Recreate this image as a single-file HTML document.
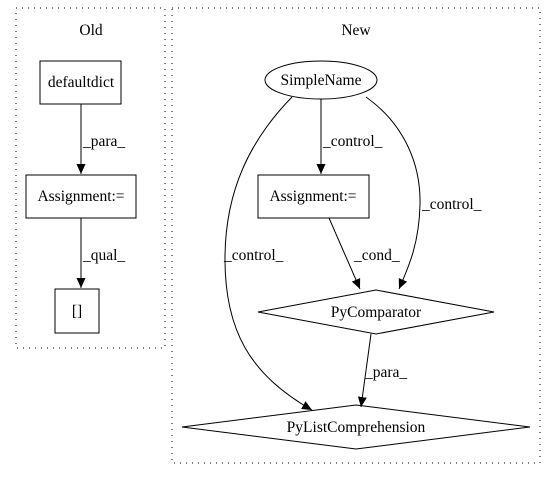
<!DOCTYPE html>
<html><head><style>body{margin:0;background:#fff}svg{display:block}text{font-family:"Liberation Serif",serif;font-size:15.5px;fill:#000}</style></head>
<body>
<svg width="549" height="480" viewBox="0 0 549 480" xmlns="http://www.w3.org/2000/svg">
<defs><marker id="a" markerWidth="11" markerHeight="11" refX="10" refY="5" orient="auto" markerUnits="userSpaceOnUse"><path d="M0,0.5 L10,5 L0,9.5 Z" fill="#000"/></marker></defs>
<g fill="none" stroke="#000" stroke-width="1">
<rect x="16" y="8" width="149" height="340" stroke-dasharray="1,5"/>
<rect x="172" y="8" width="368" height="455" stroke-dasharray="1,5"/>
<rect x="40" y="61" width="81" height="43"/>
<rect x="26" y="175" width="110" height="43"/>
<rect x="55" y="289" width="44" height="44"/>
<ellipse cx="321" cy="80" rx="56" ry="19"/>
<rect x="258" y="175" width="111" height="43"/>
<polygon points="258,312 376,290 494,312 376,334"/>
<polygon points="182,427 356,405 530,427 356,449"/>
<path d="M81,104 L81,174" marker-end="url(#a)"/>
<path d="M81,218 L81,288" marker-end="url(#a)"/>
<path d="M321,99 L321,174" marker-end="url(#a)"/>
<path d="M329,218 L360,289" marker-end="url(#a)"/>
<path d="M366,97 C405,125 421,165 420,205 C419,245 408,268 399,289" marker-end="url(#a)"/>
<path d="M292,97 C250,140 226,190 225,255 C224,330 250,375 312,410" marker-end="url(#a)"/>
<path d="M371,334 L361,407" marker-end="url(#a)"/>
</g>
<text x="91" y="35" text-anchor="middle">Old</text>
<text x="356" y="35" text-anchor="middle">New</text>
<text x="81" y="87" text-anchor="middle">defaultdict</text>
<text x="81" y="201" text-anchor="middle">Assignment:=</text>
<text x="77" y="316" text-anchor="middle">[]</text>
<text x="321" y="85" text-anchor="middle">SimpleName</text>
<text x="313" y="201" text-anchor="middle">Assignment:=</text>
<text x="376" y="317" text-anchor="middle">PyComparator</text>
<text x="356" y="432" text-anchor="middle">PyListComprehension</text>
<text x="83" y="146">_para_</text>
<text x="83" y="260">_qual_</text>
<text x="323" y="146">_control_</text>
<text x="354" y="260">_cond_</text>
<text x="422" y="209">_control_</text>
<text x="224" y="260">_control_</text>
<text x="365" y="377">_para_</text>
</svg>
</body></html>
